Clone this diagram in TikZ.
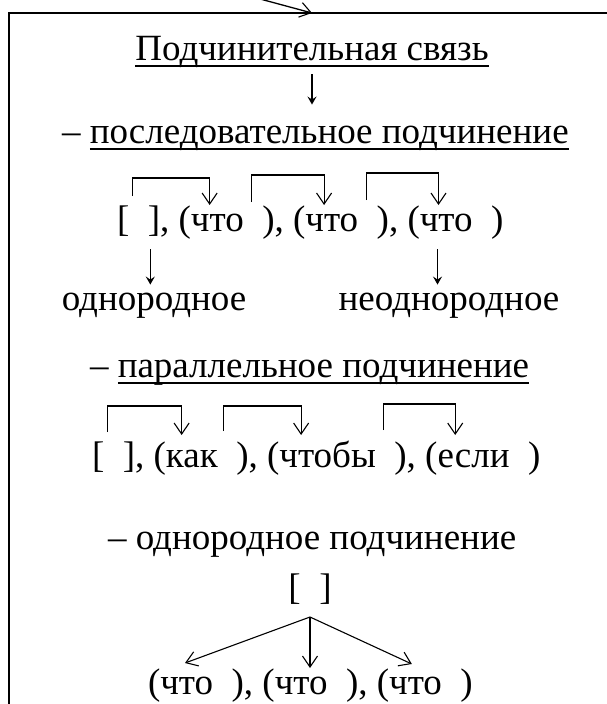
\documentclass[tikz,border=0pt]{standalone}
\usepackage{fontspec}
\setmainfont{Liberation Serif}
\usetikzlibrary{arrows.meta,calc}
\newcommand\gp{\hspace{0.5em}}
\newcommand\wsp{\kern0.25em}
\begin{document}
\begin{tikzpicture}[x=1pt,y=-1pt,
  txt/.style={inner sep=0pt,outer sep=0pt,font=\fontsize{37}{44}\selectfont},
  piece/.style={txt,anchor=base west},
  frame/.style={line width=2pt},
  ln/.style={line width=1.1pt},
  conn/.style={ln,-{Straight Barb[length=11pt,width=15pt,line width=1.1pt]}},
  down/.style={line width=1.3pt,-{Stealth[length=8pt,width=9pt,inset=3pt]}},
  ul/.style={line width=1.8pt},
]
\useasboundingbox (0,0) rectangle (607,704);
% frame
\draw[frame] (8.5,720) -- (8.5,13) -- (620,13);
\coordinate (src) at (212,-14);
\coordinate (frametop) at (312,13);
\draw[conn,line width=1.3pt] (src) -- (frametop);
% title
\node[txt,anchor=base] (title) at (312,60) {Подчинительная связь};
\draw[ul] ([yshift=-6pt]title.base west) -- ([yshift=-6pt]title.base east);
% sequential
\node[piece] (sd) at (62,143) {–};
\node[piece] (sq) at ([xshift=9.25pt]sd.base east) {последовательное подчинение};
\draw[ul] ([yshift=-6pt]sq.base west) -- ([yshift=-6pt]sq.base east);
\draw[down] ([yshift=-14pt]title.base) -- ([yshift=21pt]title.base |- sq.north);
% row 1
\node[piece] (r1a) at (117,231) {[};
\node[piece] (r1b) at (r1a.base east) {\gp],\wsp};
\node[piece] (r1q1) at (r1b.base east) {(что};
\node[piece] (r1c1) at (r1q1.base east) {\gp),\wsp};
\node[piece] (r1q2) at (r1c1.base east) {(что};
\node[piece] (r1c2) at (r1q2.base east) {\gp),\wsp};
\node[piece] (r1q3) at (r1c2.base east) {(что};
\node[piece] (r1c3) at (r1q3.base east) {\gp)};
\draw[conn] ($(r1a.base east)+(3,-35)$) -- ++(0,-18) -| ($(r1q1.base west)+(31,-26)$);
\draw[conn] ($(r1q1.base east)+(8,-29)$) -- ++(0,-27) -| ($(r1q2.base west)+(31,-26)$);
\draw[conn] ($(r1q2.base east)+(8,-31)$) -- ++(0,-27) -| ($(r1q3.base west)+(31,-26)$);
% homogeneous / heterogeneous
\node[txt,anchor=base] (hom) at (154,310) {однородное};
\node[txt,anchor=base] (het) at (449,310) {неоднородное};
\draw[down] ($(r1b.base west)+(21,18)$) -- ($(r1b.base west |- hom.north)+(21,-8)$);
\draw[down] ($(r1q3.base west)+(30,18)$) -- ($(r1q3.base west |- het.north)+(30,-8)$);
% parallel
\node[piece] (pd) at (90,377) {–};
\node[piece] (pq) at ([xshift=9.25pt]pd.base east) {параллельное подчинение};
\draw[ul] ([yshift=-6pt]pq.base west) -- ([yshift=-6pt]pq.base east);
% row 2
\node[piece] (r2a) at (92,467) {[};
\node[piece] (r2b) at (r2a.base east) {\gp],\wsp};
\node[piece] (r2q1) at (r2b.base east) {(как};
\node[piece] (r2c1) at (r2q1.base east) {\gp),\wsp};
\node[piece] (r2q2) at (r2c1.base east) {(чтобы};
\node[piece] (r2c2) at (r2q2.base east) {\gp),\wsp};
\node[piece] (r2q3) at (r2c2.base east) {(если};
\node[piece] (r2c3) at (r2q3.base east) {\gp)};
\draw[conn] ($(r2a.base east)+(3,-35)$) -- ++(0,-26) -| ($(r2q1.base west)+(28,-32)$);
\draw[conn] ($(r2q1.base east)+(6,-36)$) -- ++(0,-25) -| ($(r2q2.base west)+(34,-32)$);
\draw[conn] ($(r2q2.base east)+(8,-37)$) -- ++(0,-26) -| ($(r2q3.base west)+(30,-32)$);
% homogeneous subordination
\node[piece] (hd) at (108,549) {–};
\node[piece] (hq) at ([xshift=9.25pt]hd.base east) {однородное подчинение};
\node[txt,anchor=base] (br) at (310,599) {[\gp]};
\coordinate (fan) at ($(br.base)+(0,18)$);
\node[piece] (r3q1) at (148,694) {(что};
\node[piece] (r3c1) at (r3q1.base east) {\gp),\wsp};
\node[piece] (r3q2) at (r3c1.base east) {(что};
\node[piece] (r3c2) at (r3q2.base east) {\gp),\wsp};
\node[piece] (r3q3) at (r3c2.base east) {(что};
\node[piece] (r3c3) at (r3q3.base east) {\gp)};
\draw[conn] (fan) -- ($(r3q1.base west)+(37,-31)$);
\draw[conn] (fan) -- (fan |- {$(r3q2.base)+(0,-26)$});
\draw[conn] (fan) -- ($(r3q3.base west)+(35,-30)$);
\end{tikzpicture}
\end{document}
